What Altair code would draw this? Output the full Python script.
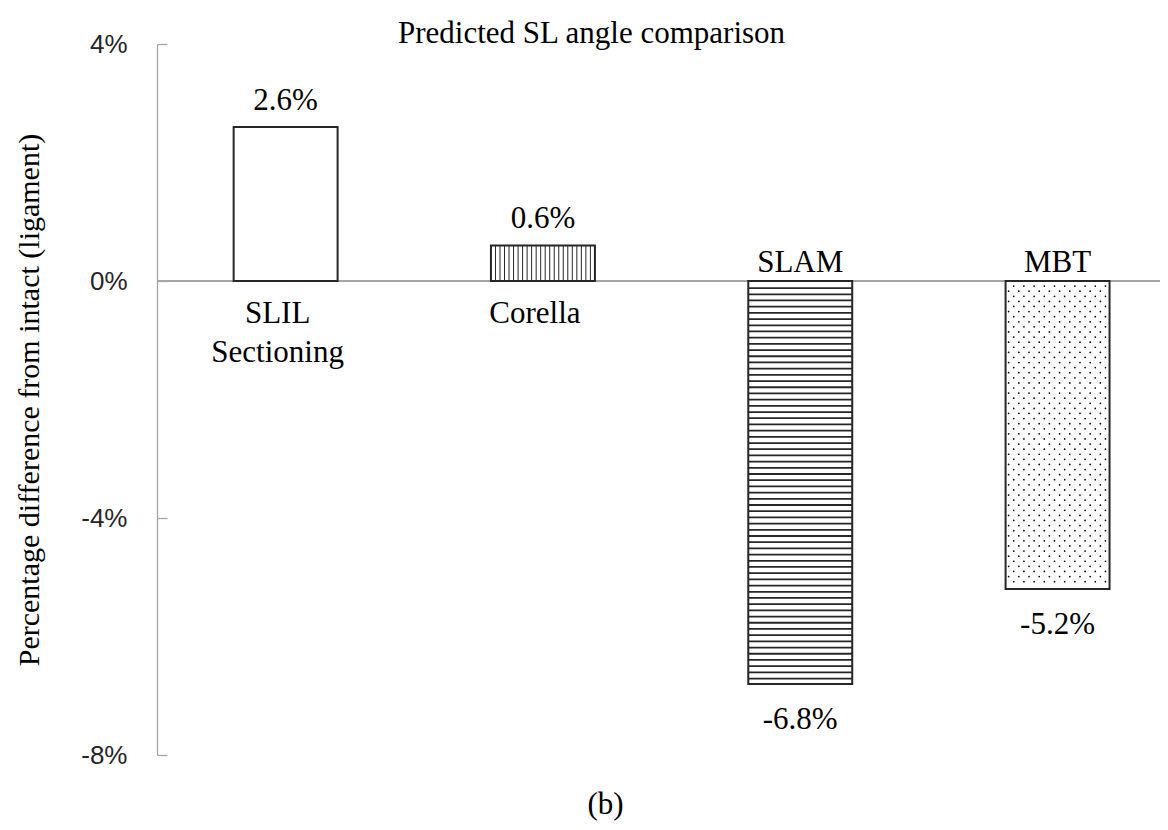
import altair as alt
import pandas as pd

# ---- data ----
categories = ["SLIL\nSectioning", "Corella", "SLAM", "MBT"]
values = [2.6, 0.6, -6.8, -5.2]
patterns = ["none", "vertical", "horizontal", "dots"]
y_ticks = [4, 0, -4, -8]

df = pd.DataFrame({"cat": categories, "value": values, "pattern": patterns})

W, H = 1003, 711
SERIF = "Liberation Serif"
SANS = "Liberation Sans"
GRAY = "#a6a6a6"
INK = "#262626"
FS = 31

xscale = alt.Scale(domain=categories, paddingInner=0.596, paddingOuter=0.247, align=0.603)
yscale = alt.Scale(domain=[-8, 4], nice=False, zero=False)
oscale = alt.Scale(domain=[0, 1], nice=False, zero=False)

X_bottom = alt.X(
    "cat:N", scale=xscale, sort=categories,
    axis=alt.Axis(orient="bottom", title="(b)", labels=False, ticks=False, domain=False,
                  grid=False, titleFont=SERIF, titleFontSize=FS, titleFontWeight="normal",
                  titleColor="black", titleX=448, titleY=58, titleBaseline="alphabetic",
                  titleAlign="center", titleAngle=0),
)
X_top = alt.X(
    "cat:N", scale=xscale, sort=categories,
    axis=alt.Axis(orient="top", title="Predicted SL angle comparison", labels=False,
                  ticks=False, domain=False, grid=False, titleFont=SERIF,
                  titleFontSize=FS, titleFontWeight="normal", titleColor="black",
                  titleX=434, titleY=-2, titleBaseline="alphabetic",
                  titleAlign="center", titleAngle=0),
)
Xn = alt.X("cat:N", scale=xscale, sort=categories, axis=None)

y_left = alt.Axis(
    orient="left", values=y_ticks, labelExpr="datum.value + '%'", labelFont=SANS,
    labelFontSize=26, labelColor="#262626", labelPadding=30, ticks=False, tickSize=0,
    domainColor=GRAY, domainWidth=1.3, grid=False,
    title="Percentage difference from intact (ligament)", titleFont=SERIF,
    titleFontSize=30, titleFontWeight="normal", titleColor="black",
    titleX=-113, titleBaseline="bottom",
)
y_ticks_axis = alt.Axis(
    orient="right", offset=-W, values=y_ticks, labels=False, domain=False,
    ticks=True, tickSize=10, tickColor=GRAY, tickWidth=1.3, grid=False, title="",
)

base = alt.Chart(df)

zero_line = base.mark_rule(color=GRAY, strokeWidth=1.3).encode(
    y=alt.Y(datum=0, scale=yscale, axis=None)
)

fill_bars = base.mark_bar(fill="white", strokeWidth=0).encode(
    x=X_bottom, y=alt.Y("value:Q", scale=yscale, axis=y_left), y2=alt.Y2(datum=0)
)

vlines = (
    base.transform_filter("datum.pattern == 'vertical'")
    .transform_calculate(k="sequence(1, 23)")
    .transform_flatten(["k"])
    .transform_calculate(xo="datum.k / 23")
    .mark_rule(color=INK, strokeWidth=1)
    .encode(
        x=Xn,
        xOffset=alt.XOffset("xo:Q", scale=oscale),
        y=alt.Y("value:Q", scale=yscale, axis=None),
        y2=alt.Y2(datum=0),
    )
)

hlines = (
    base.transform_filter("datum.pattern == 'horizontal'")
    .transform_calculate(k="sequence(1, 70)")
    .transform_flatten(["k"])
    .transform_calculate(ya="-datum.k * 0.1046", yb="-datum.k * 0.1046 - 0.03")
    .transform_filter("datum.yb > datum.value + 0.03")
    .mark_bar(color=INK, strokeWidth=0)
    .encode(x=Xn, y=alt.Y("ya:Q", scale=yscale, axis=None), y2="yb:Q")
)

dots = (
    base.transform_filter("datum.pattern == 'dots'")
    .transform_calculate(r="sequence(1, 70)")
    .transform_flatten(["r"])
    .transform_calculate(c="sequence(0, 10)")
    .transform_flatten(["c"])
    .transform_calculate(
        xo="(datum.c + 0.3 + (datum.r % 2) * 0.5) / 10.2",
        yv="-datum.r * 0.086",
    )
    .transform_filter("datum.yv > datum.value + 0.05 && datum.xo < 0.97")
    .mark_circle(size=3, color="black", opacity=1)
    .encode(
        x=Xn,
        xOffset=alt.XOffset("xo:Q", scale=oscale),
        y=alt.Y("yv:Q", scale=yscale, axis=None),
    )
)

outline = base.mark_bar(fillOpacity=0, stroke=INK, strokeWidth=2).encode(
    x=X_top, y=alt.Y("value:Q", scale=yscale, axis=y_ticks_axis), y2=alt.Y2(datum=0)
)

lab = "(datum.value < 0 ? '-' : '') + format(abs(datum.value), '.1f') + '%'"
val_pos = (
    base.transform_filter("datum.value >= 0")
    .transform_calculate(lab=lab)
    .mark_text(font=SERIF, fontSize=FS, color="black", baseline="alphabetic", dy=-17)
    .encode(x=Xn, y=alt.Y("value:Q", scale=yscale, axis=None), text="lab:N")
)
val_neg = (
    base.transform_filter("datum.value < 0")
    .transform_calculate(lab=lab)
    .mark_text(font=SERIF, fontSize=FS, color="black", baseline="alphabetic", dy=45)
    .encode(x=Xn, y=alt.Y("value:Q", scale=yscale, axis=None), text="lab:N")
)

cat_pos = (
    base.transform_filter("datum.value >= 0")
    .mark_text(font=SERIF, fontSize=FS, color="black", baseline="alphabetic",
               dy=42, dx=-8, lineBreak="\n", lineHeight=39)
    .encode(x=Xn, y=alt.Y(datum=0, scale=yscale, axis=None), text="cat:N")
)
cat_neg = (
    base.transform_filter("datum.value < 0")
    .mark_text(font=SERIF, fontSize=FS, color="black", baseline="alphabetic", dy=-9)
    .encode(x=Xn, y=alt.Y(datum=0, scale=yscale, axis=None), text="cat:N")
)

chart = (
    alt.layer(zero_line, fill_bars, vlines, hlines, dots, outline,
              val_pos, val_neg, cat_pos, cat_neg)
    .resolve_axis(y="independent", x="independent")
    .resolve_scale(xOffset="independent")
    .properties(
        width=W, height=H,
        background="white",
        autosize=alt.AutoSizeParams(type="none"),
        padding={"left": 149, "top": 36, "right": 0, "bottom": 75},
    )
    .configure_view(strokeWidth=0, stroke="transparent")
)

chart.save("out.html", embed_options={"renderer": "svg", "actions": False})
